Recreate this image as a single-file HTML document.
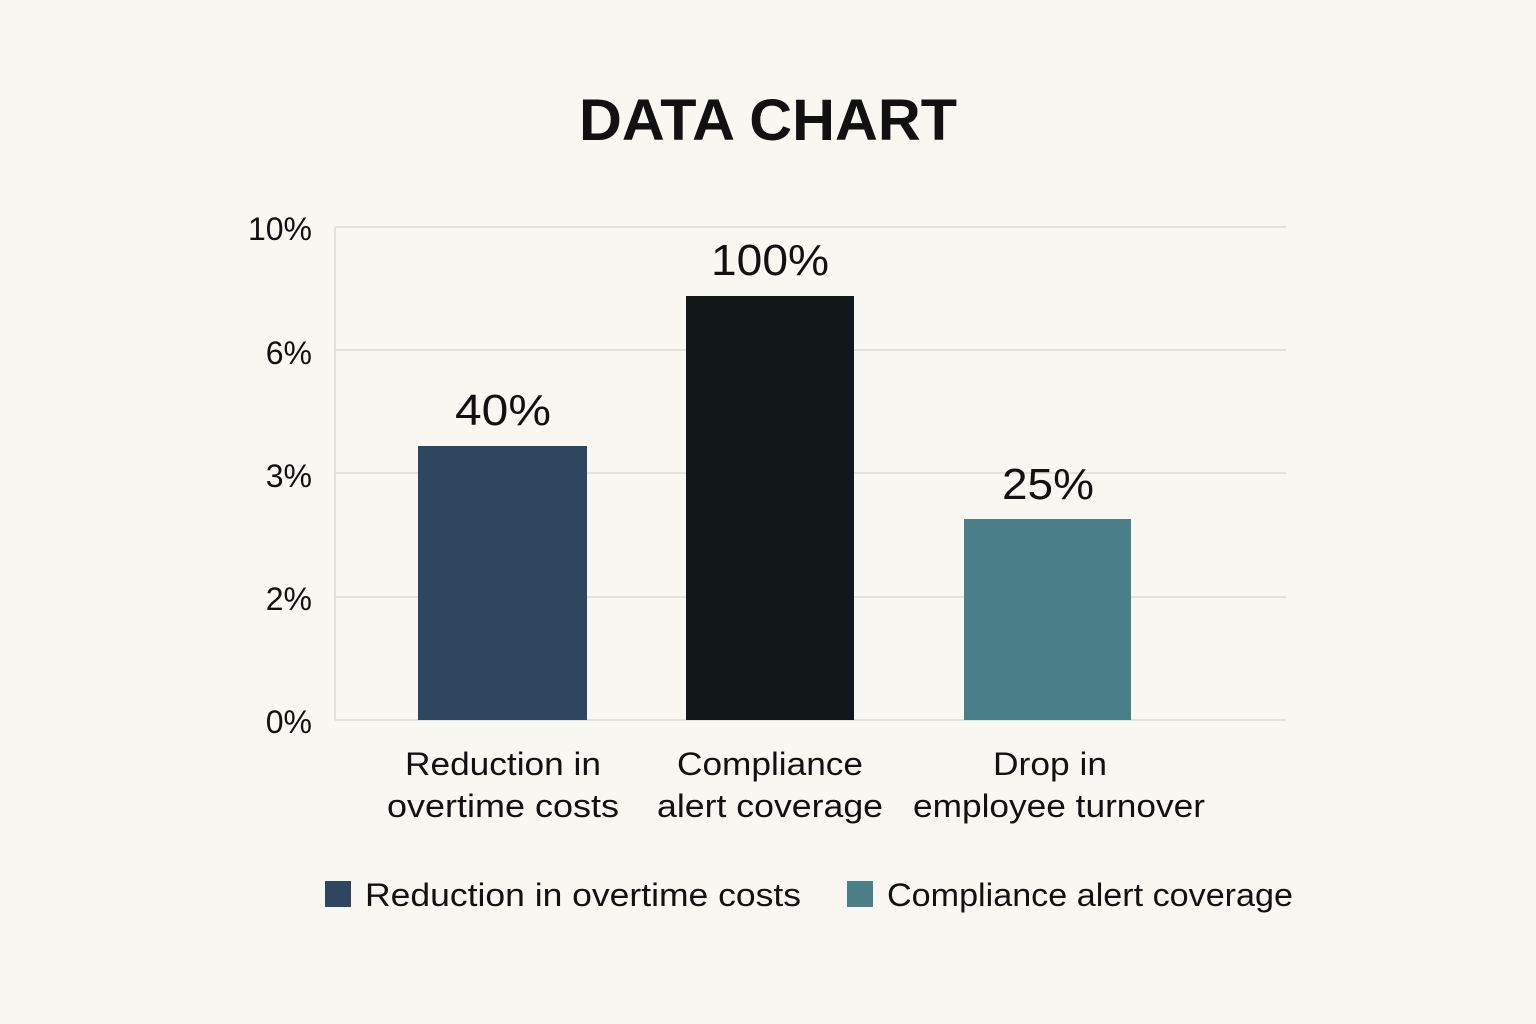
<!DOCTYPE html>
<html><head><style>
html,body{margin:0;padding:0;background:#f9f7f2;}
svg{display:block}
text{font-family:"Liberation Sans",sans-serif;fill:#111;}
</style></head><body>
<svg width="1536" height="1024" viewBox="0 0 1536 1024">
<rect width="1536" height="1024" fill="#f9f7f2"/>
<text x="768" y="140" text-anchor="middle" font-size="58" font-weight="bold" fill="#161a1d" textLength="378" lengthAdjust="spacingAndGlyphs">DATA CHART</text>
<g stroke="#dcdad5" stroke-width="1.5">
<line x1="335" y1="227" x2="1286" y2="227"/>
<line x1="335" y1="350" x2="1286" y2="350"/>
<line x1="335" y1="473" x2="1286" y2="473"/>
<line x1="335" y1="597" x2="1286" y2="597"/>
<line x1="335" y1="720" x2="1286" y2="720"/>
<line x1="335" y1="227" x2="335" y2="720"/>
</g>
<g font-size="32" text-anchor="end">
<text x="312" y="240">10%</text>
<text x="312" y="364">6%</text>
<text x="312" y="487">3%</text>
<text x="312" y="610">2%</text>
<text x="312" y="733">0%</text>
</g>
<rect x="418" y="446" width="169" height="274" fill="#2e475f"/>
<rect x="686" y="296" width="168" height="424" fill="#12171a"/>
<rect x="964" y="519" width="167" height="201" fill="#4a7f87"/>
<g font-size="44" text-anchor="middle">
<text x="503" y="425" textLength="96" lengthAdjust="spacingAndGlyphs">40%</text>
<text x="770" y="275" textLength="118" lengthAdjust="spacingAndGlyphs">100%</text>
<text x="1048" y="499" textLength="92" lengthAdjust="spacingAndGlyphs">25%</text>
</g>
<g font-size="32" text-anchor="middle">
<text x="503" y="775" textLength="196" lengthAdjust="spacingAndGlyphs">Reduction in</text>
<text x="503" y="817" textLength="232" lengthAdjust="spacingAndGlyphs">overtime costs</text>
<text x="770" y="775" textLength="186" lengthAdjust="spacingAndGlyphs">Compliance</text>
<text x="770" y="817" textLength="226" lengthAdjust="spacingAndGlyphs">alert coverage</text>
<text x="1050" y="775" textLength="114" lengthAdjust="spacingAndGlyphs">Drop in</text>
<text x="1059" y="817" textLength="292" lengthAdjust="spacingAndGlyphs">employee turnover</text>
</g>
<rect x="325" y="881" width="26" height="26" fill="#2e475f"/>
<text x="365" y="906" font-size="32" textLength="436" lengthAdjust="spacingAndGlyphs">Reduction in overtime costs</text>
<rect x="847" y="881" width="26" height="26" fill="#4a7f87"/>
<text x="887" y="906" font-size="32" textLength="406" lengthAdjust="spacingAndGlyphs">Compliance alert coverage</text>
</svg>
</body></html>
